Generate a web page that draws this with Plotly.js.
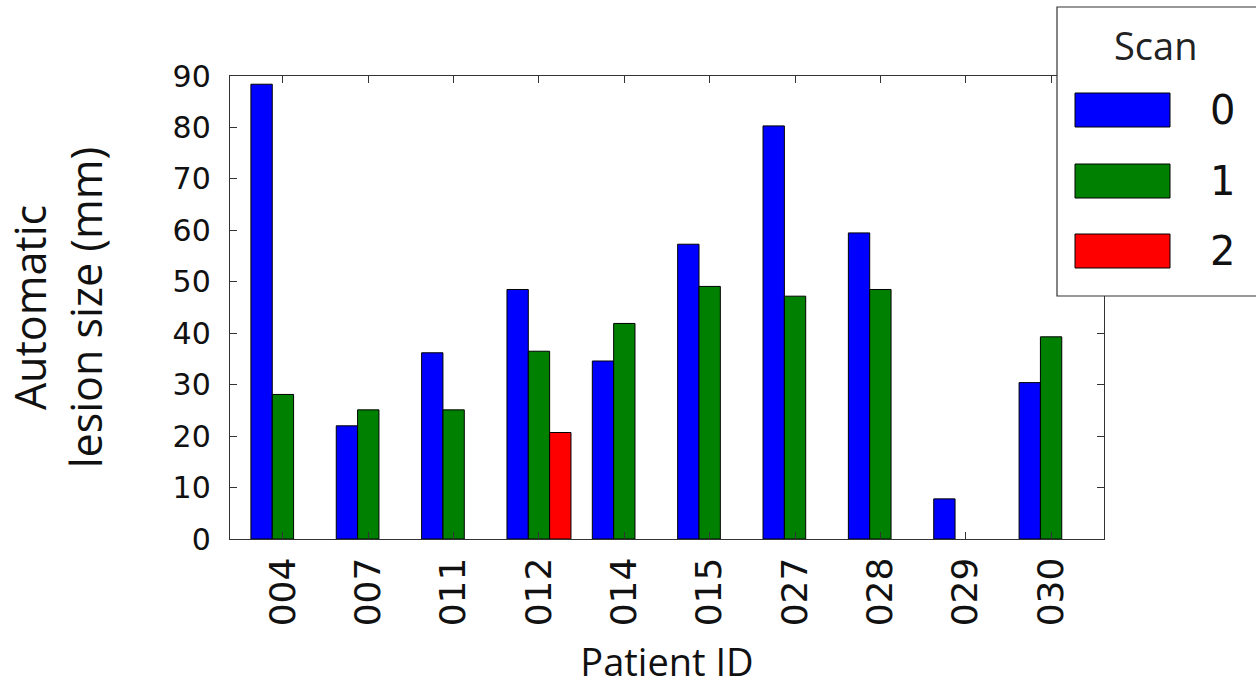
<!DOCTYPE html>
<html>
<head>
<meta charset="utf-8">
<script src="https://cdn.plot.ly/plotly-3.0.1.min.js"></script>
<style>html,body{margin:0;padding:0;background:#fff;}#chart{width:1256px;height:688px;}</style>
</head>
<body>
<div id="chart"></div>
<script>
const patients = ["004","007","011","012","014","015","027","028","029","030"];
const scanNames = ["0","1","2"];
const scan0 = [88.4, 22.0, 36.2, 48.5, 34.6, 57.3, 80.3, 59.5, 7.8, 30.4];
const scan1 = [28.1, 25.1, 25.1, 36.5, 41.9, 49.1, 47.2, 48.5, null, 39.3];
const scan2 = [null, null, null, 20.7, null, null, null, null, null, null];
const scanColors = ["#0000ff", "#008000", "#ff0000"];
const legendTitle = "Scan";

const series = [scan0, scan1, scan2];
const traces = series.map((vals, i) => ({
  type: "bar",
  name: scanNames[i],
  x: patients.map((p, k) => k),
  y: vals,
  marker: {color: scanColors[i], line: {color: "#000", width: 1}},
  showlegend: false,
  hoverinfo: "x+y"
}));

// plot area in pixels
const L = 230, R = 1104, T = 76, B = 539;
const px = x => (x - L) / (R - L);
const py = y => (B - y) / (B - T);

const shapes = [
  {type: "rect", xref: "paper", yref: "paper", x0: px(1057), x1: px(1262), y0: py(296), y1: py(7),
   fillcolor: "#fff", line: {color: "#333", width: 1.2}, layer: "above"}
];
const annotations = [
  {xref: "paper", yref: "paper", x: px(1155), y: py(45), text: legendTitle, showarrow: false,
   font: {family: "Open Sans, sans-serif", size: 38, color: "#222"}, xanchor: "center", yanchor: "middle"}
];
const rowsY = [110, 181, 251];
scanNames.forEach((n, i) => {
  shapes.push({type: "rect", xref: "paper", yref: "paper", x0: px(1075), x1: px(1170),
    y0: py(rowsY[i] + 17), y1: py(rowsY[i] - 17), fillcolor: scanColors[i],
    line: {color: "#000", width: 1}, layer: "above"});
  annotations.push({xref: "paper", yref: "paper", x: px(1222), y: py(rowsY[i]), text: n, showarrow: false,
    font: {family: "DejaVu Sans, sans-serif", size: 40, color: "#111"}, xanchor: "center", yanchor: "middle"});
});

const layout = {
  width: 1256, height: 688,
  margin: {l: L, r: 1256 - R, t: T, b: 688 - B, pad: 0},
  paper_bgcolor: "#fff", plot_bgcolor: "#fff",
  barmode: "group", bargap: 0.25, bargroupgap: 0,
  showlegend: false,
  xaxis: {
    range: [-0.62, 9.62],
    tickmode: "array", tickvals: patients.map((p, k) => k), ticktext: patients,
    tickangle: -90,
    ticks: "inside", ticklen: 7, tickcolor: "#333",
    showline: true, linecolor: "#333", linewidth: 1.2, mirror: "ticks",
    showgrid: false, zeroline: false,
    tickfont: {family: "DejaVu Sans, sans-serif", size: 36, color: "#111"},
    ticklabelstandoff: 3,
    title: {text: "Patient ID", font: {family: "Open Sans, sans-serif", size: 38, color: "#111"}, standoff: 24},
    automargin: false
  },
  yaxis: {
    range: [0, 90], tickmode: "linear", tick0: 0, dtick: 10,
    ticks: "inside", ticklen: 7, tickcolor: "#333",
    showline: true, linecolor: "#333", linewidth: 1.2, mirror: "ticks",
    showgrid: false, zeroline: false,
    tickfont: {family: "DejaVu Sans, sans-serif", size: 30, color: "#111"},
    ticklabelstandoff: 12,
    title: {text: "Automatic<br>lesion size (mm)", font: {family: "Open Sans, sans-serif", size: 43, color: "#111"}, standoff: 56},
    automargin: false
  },
  shapes: shapes,
  annotations: annotations
};

Plotly.newPlot("chart", traces, layout, {displayModeBar: false, staticPlot: true});
</script>
</body>
</html>
